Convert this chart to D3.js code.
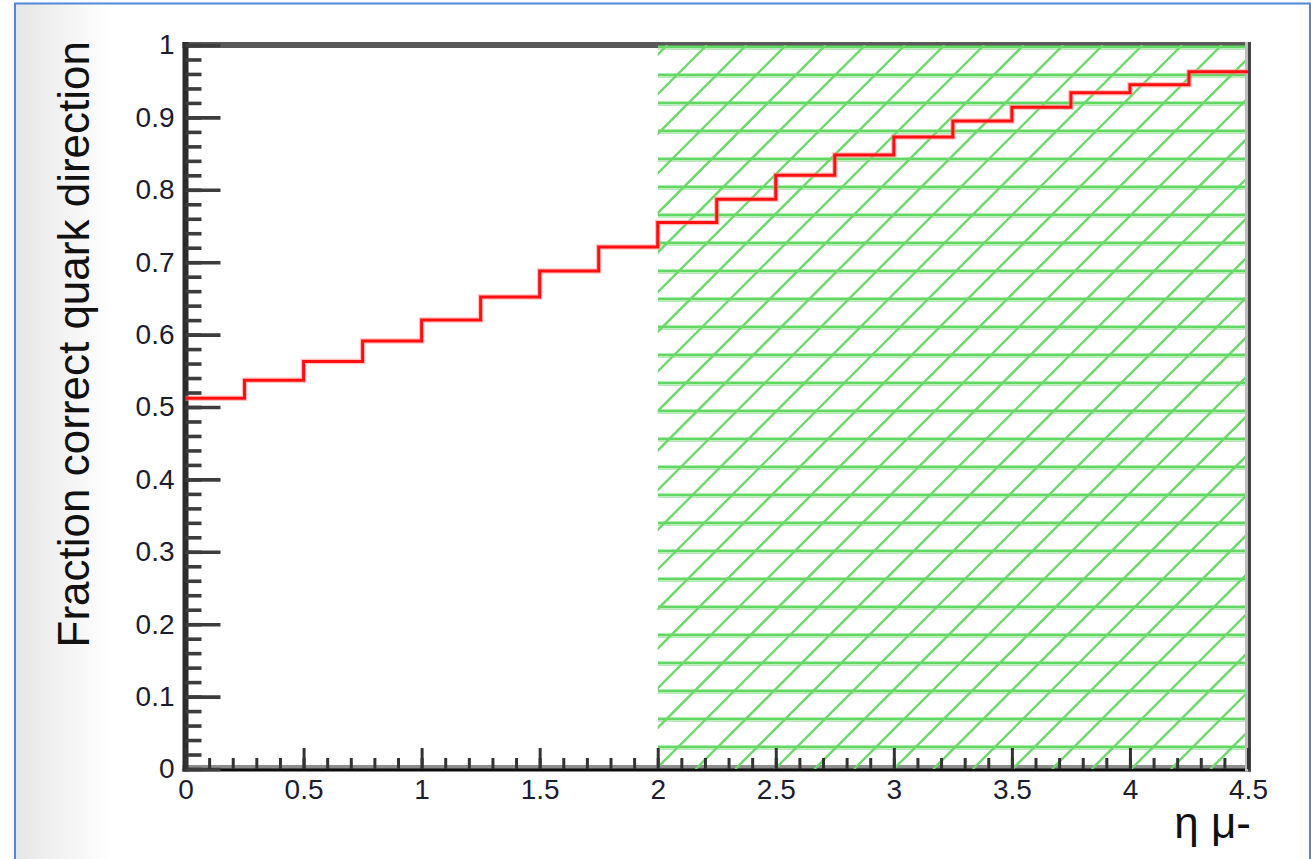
<!DOCTYPE html>
<html>
<head>
<meta charset="utf-8">
<script src="https://cdn.jsdelivr.net/npm/d3@7/dist/d3.min.js"></script>
<style>
  html, body { margin: 0; padding: 0; background: #fff; }
  svg { display: block; }
  text { font-family: "Liberation Sans", Arial, Helvetica, sans-serif; }
</style>
</head>
<body>
<svg id="chart" width="1311" height="859"></svg>
<script>
// Bin edges in muon pseudorapidity (0.25 wide)
const etaEdges = [0, 0.25, 0.5, 0.75, 1, 1.25, 1.5, 1.75, 2, 2.25, 2.5, 2.75, 3, 3.25, 3.5, 3.75, 4, 4.25, 4.5];
// Fraction of events with the correct quark direction, one value per bin
const fractionCorrect = [0.512, 0.537, 0.563, 0.591, 0.620, 0.652, 0.688, 0.721, 0.755,
                         0.787, 0.820, 0.848, 0.873, 0.895, 0.914, 0.934, 0.945, 0.963];
// Eta range covered by the hatched band
const hatchedRange = [2, 4.5];

const yTicks = [0, 0.1, 0.2, 0.3, 0.4, 0.5, 0.6, 0.7, 0.8, 0.9, 1];
const yTickLabels = ["0", "0.1", "0.2", "0.3", "0.4", "0.5", "0.6", "0.7", "0.8", "0.9", "1"];
const xTicks = [0, 0.5, 1, 1.5, 2, 2.5, 3, 3.5, 4, 4.5];
const xTickLabels = ["0", "0.5", "1", "1.5", "2", "2.5", "3", "3.5", "4", "4.5"];

const yTitle = "Fraction correct quark direction";
const xTitle = "η μ-";

const svg = d3.select("#chart");
const W = 1311, H = 859;

const x = d3.scaleLinear().domain([0, 4.5]).range([185.5, 1248]);
const y = d3.scaleLinear().domain([0, 1]).range([769, 45]);

// ---- window chrome: grey gradient strip and blue border ----
const defs = svg.append("defs");
const grad = defs.append("linearGradient").attr("id", "sideGrad")
  .attr("x1", "0%").attr("x2", "100%").attr("y1", "0%").attr("y2", "0%");
grad.append("stop").attr("offset", "0%").attr("stop-color", "#e6e6e6");
grad.append("stop").attr("offset", "100%").attr("stop-color", "#ffffff");

svg.append("rect").attr("x", 0).attr("y", 0).attr("width", W).attr("height", H).attr("fill", "#fff");
svg.append("rect").attr("x", 16).attr("y", 4).attr("width", 95).attr("height", H - 4).attr("fill", "url(#sideGrad)");

const border = svg.append("g").attr("stroke", "#5286d6").attr("stroke-width", 2).attr("fill", "none");
border.append("line").attr("x1", 14).attr("x2", W).attr("y1", 3.5).attr("y2", 3.5);
border.append("line").attr("x1", 15).attr("x2", 15).attr("y1", 3).attr("y2", H);
border.append("line").attr("x1", 1310).attr("x2", 1310).attr("y1", 3).attr("y2", H);

// ---- frame: top and bottom edges ----
const [x0, x1] = x.range();
const [yb, yt] = y.range();
svg.append("line").attr("x1", x0 - 3).attr("x2", x1 + 3).attr("y1", yt).attr("y2", yt)
  .attr("stroke", "#595959").attr("stroke-width", 6);
svg.append("line").attr("x1", x0 - 3).attr("x2", x1 + 3).attr("y1", yb - 2.5).attr("y2", yb - 2.5)
  .attr("stroke", "#8e8e8e").attr("stroke-width", 3);
svg.append("line").attr("x1", x0 - 3).attr("x2", x1 + 3).attr("y1", yb + 0.8).attr("y2", yb + 0.8)
  .attr("stroke", "#0d0d0d").attr("stroke-width", 3.2);

// ---- hatched band ----
const hx0 = x(hatchedRange[0]), hx1 = x(hatchedRange[1]);
defs.append("clipPath").attr("id", "hatchClip")
  .append("rect").attr("x", hx0).attr("y", yt).attr("width", hx1 - hx0).attr("height", yb - yt);
const hatch = svg.append("g").attr("clip-path", "url(#hatchClip)");

const hStep = 28;
const hLines = d3.range(yt + 1.7, yb - 10, hStep);
hatch.selectAll("line.hlight").data(hLines).join("line").attr("class", "hlight")
  .attr("x1", hx0).attr("x2", hx1).attr("y1", d => d + 2.2).attr("y2", d => d + 2.2)
  .attr("stroke", "#b9ecb9").attr("stroke-width", 2.4);
hatch.selectAll("line.hcore").data(hLines).join("line").attr("class", "hcore")
  .attr("x1", hx0).attr("x2", hx1).attr("y1", d => d).attr("y2", d => d)
  .attr("stroke", "#62d762").attr("stroke-width", 2.4);

const dStep = hStep * Math.SQRT2;
const cStart = 1266.7 - dStep * Math.ceil((1266.7 - (hx0 + yt)) / dStep);
const dOffsets = d3.range(cStart, hx1 + yb + dStep, dStep);
hatch.selectAll("line.diag").data(dOffsets).join("line").attr("class", "diag")
  .attr("x1", c => c - yb).attr("y1", yb)
  .attr("x2", c => c - yt).attr("y2", yt)
  .attr("stroke", "#6ad96a").attr("stroke-width", 2.4);

// ---- left and right frame edges ----
svg.append("line").attr("x1", x0).attr("x2", x0).attr("y1", yt - 3).attr("y2", yb + 2.5)
  .attr("stroke", "#2b2b2b").attr("stroke-width", 6);
svg.append("line").attr("x1", x1 - 1.5).attr("x2", x1 - 1.5).attr("y1", yt - 3).attr("y2", yb + 2.5)
  .attr("stroke", "#bcbcbc").attr("stroke-width", 3);
svg.append("line").attr("x1", x1 + 1.5).attr("x2", x1 + 1.5).attr("y1", yt - 3).attr("y2", yb + 2.5)
  .attr("stroke", "#454545").attr("stroke-width", 3);

// ---- axes: inward ticks ----
const yMinor = svg.append("g").attr("transform", `translate(${x0},0)`)
  .call(d3.axisLeft(y).ticks(50).tickSize(-16).tickFormat(""));
const yMajor = svg.append("g").attr("transform", `translate(${x0},0)`)
  .call(d3.axisLeft(y).tickValues(yTicks).tickFormat((d, i) => yTickLabels[i]).tickSize(-35).tickPadding(11));
const xMinor = svg.append("g").attr("transform", `translate(0,${yb})`)
  .call(d3.axisBottom(x).ticks(45).tickSize(-11).tickFormat(""));
const xMajor = svg.append("g").attr("transform", `translate(0,${yb})`)
  .call(d3.axisBottom(x).tickValues(xTicks).tickFormat((d, i) => xTickLabels[i]).tickSize(-21).tickPadding(10));

[yMinor, yMajor, xMinor, xMajor].forEach(g => g.select(".domain").remove());
[yMinor, yMajor].forEach(g => g.selectAll(".tick line").attr("stroke", "#3c3c3c").attr("stroke-width", 3.6));
[xMinor, xMajor].forEach(g => g.selectAll(".tick line").attr("stroke", "#333").attr("stroke-width", 3));
[yMajor, xMajor].forEach(g => g.selectAll(".tick text")
  .attr("font-size", 28).attr("fill", "#1c1c30")
  .style("font-family", "'Liberation Sans', Arial, sans-serif"));

// ---- histogram step line ----
const steps = etaEdges.map((e, i) => [e, fractionCorrect[Math.min(i, fractionCorrect.length - 1)]]);
const stepLine = d3.line().x(d => x(d[0])).y(d => y(d[1])).curve(d3.curveStepAfter);
svg.append("path").datum(steps).attr("d", stepLine)
  .attr("fill", "none").attr("stroke", "#ff8c8c").attr("stroke-width", 5.5).attr("opacity", 0.55);
svg.append("path").datum(steps).attr("d", stepLine)
  .attr("fill", "none").attr("stroke", "#ff1010").attr("stroke-width", 3);

// ---- axis titles ----
svg.append("text").attr("transform", `translate(89,41) rotate(-90)`)
  .attr("text-anchor", "end").attr("font-size", 44).attr("fill", "#111")
  .text(yTitle);
svg.append("text").attr("x", 1251).attr("y", 838)
  .attr("text-anchor", "end").attr("font-size", 44).attr("fill", "#111")
  .text(xTitle);
</script>
</body>
</html>
